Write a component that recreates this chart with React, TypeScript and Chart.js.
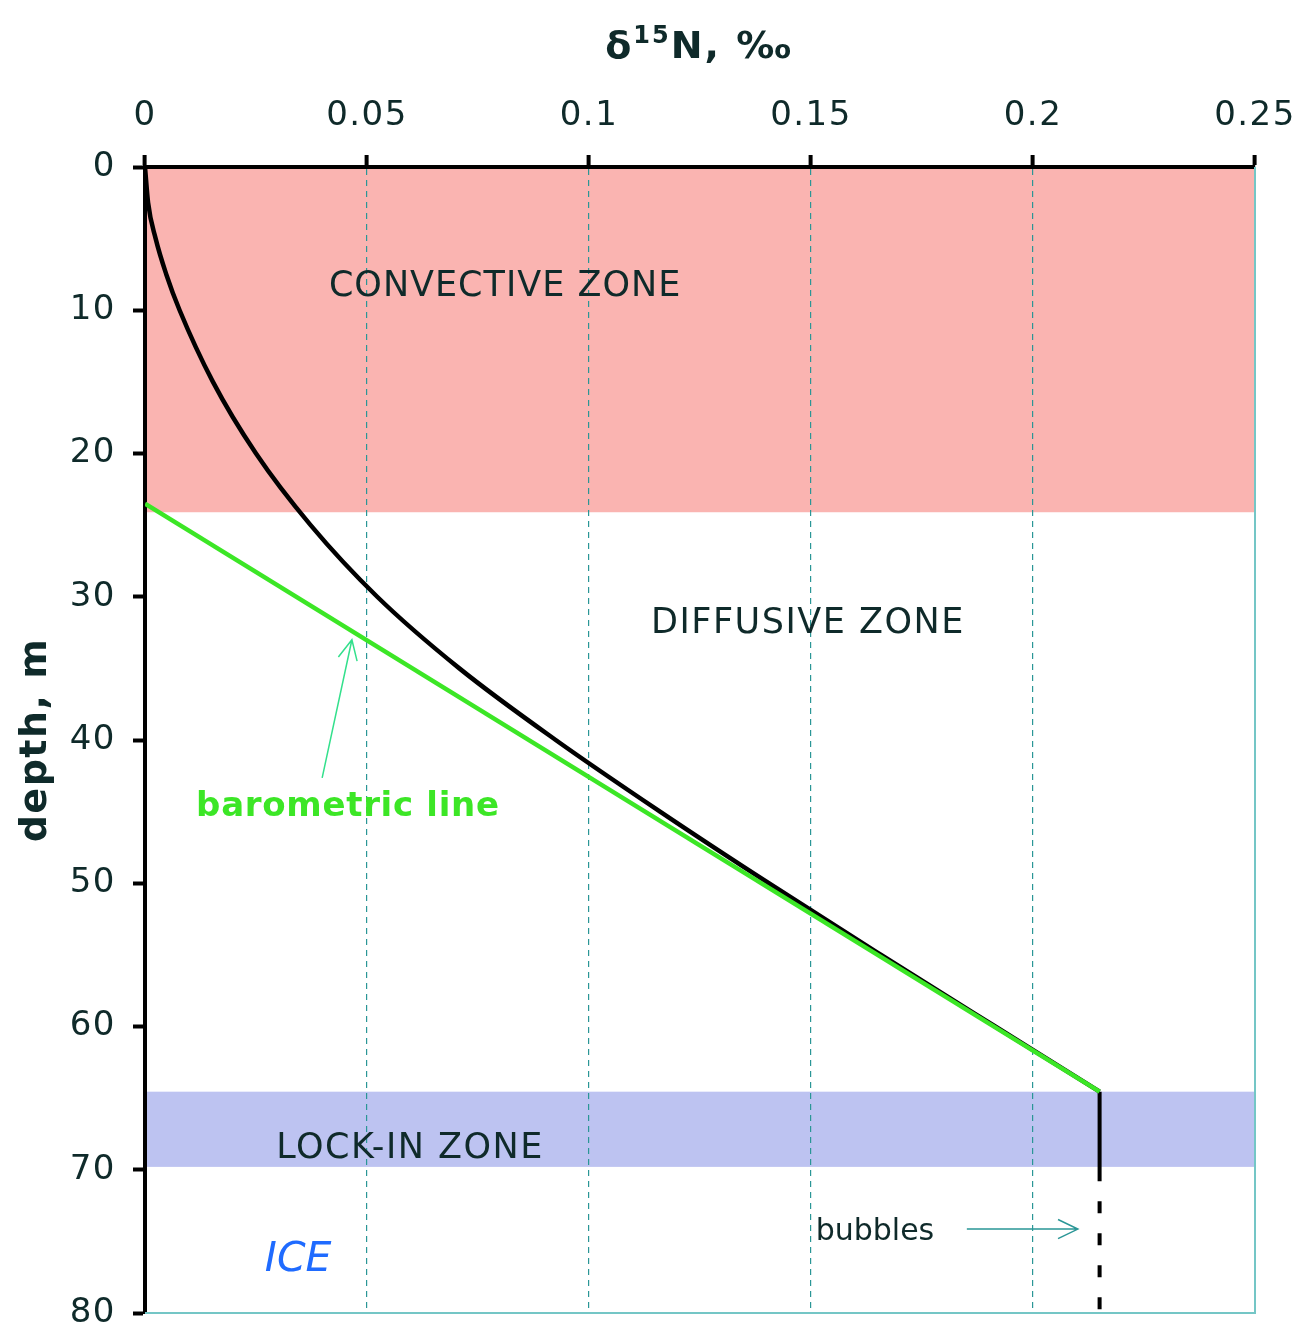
import React, { useEffect, useRef } from "react";
import { Chart, registerables } from "chart.js";

Chart.register(...registerables);

// ---- data ----
const xTicks = [0, 0.05, 0.1, 0.15, 0.2, 0.25];
const xTickLabels = ["0", "0.05", "0.1", "0.15", "0.2", "0.25"];
const yTicks = [0, 10, 20, 30, 40, 50, 60, 70, 80];

// modelled δ15N profile in the firn (black curve)
const profileDepth = [0, 2.5, 5, 7.5, 10, 15, 20, 25, 30, 35, 40, 45, 50, 55, 60, 64.55];
const profileDelta = [0, 0.0007, 0.0024, 0.0048, 0.0078, 0.0153, 0.025, 0.0373, 0.0523, 0.0708, 0.0925, 0.116, 0.1405, 0.1658, 0.1915, 0.215];

// barometric (gravitational) line
const barometricDepth = [23.5, 64.55];
const barometricDelta = [0, 0.215];

// lock-in segment and bubbles in ice
const lockInLineDepth = [64.55, 70.8];
const lockInLineDelta = [0.215, 0.215];
const bubblesDepth = [70.8, 80];
const bubblesDelta = [0.215, 0.215];

// zones (depth ranges, m)
const convectiveZone = [0, 24.1];
const lockInZone = [64.55, 69.8];

// ---- styles ----
const TEXT = "#0f2a2a";
const FONT = "'DejaVu Sans', Verdana, sans-serif";
const TEAL = "#2a9696";

const pts = (xs: number[], ys: number[]) => xs.map((x, i) => ({ x, y: ys[i] }));

const labels = [
  { text: "CONVECTIVE ZONE", x: 0.0811, y: 9.0, font: `35px ${FONT}`, color: TEXT, ls: "1px" },
  { text: "DIFFUSIVE ZONE", x: 0.1493, y: 32.5, font: `35px ${FONT}`, color: TEXT, ls: "1.5px" },
  { text: "LOCK-IN ZONE", x: 0.0597, y: 69.2, font: `35px ${FONT}`, color: TEXT, ls: "1.5px" },
  { text: "ICE", x: 0.0345, y: 77.1, font: `italic 41px ${FONT}`, color: "#1f6bff", ls: "0px" },
  { text: "bubbles", x: 0.1644, y: 74.9, font: `30px ${FONT}`, color: TEXT, ls: "0px" },
  { text: "barometric line", x: 0.0457, y: 45.3, font: `bold 34px ${FONT}`, color: "#3ce626", ls: "0.7px" },
];

const arrows = [
  { from: [0.0399, 42.65], to: [0.0466, 33.0], color: "#33e08c" },
  { from: [0.1851, 74.14], to: [0.2101, 74.14], color: TEAL },
];

const TICK_LS = "1.5px";

const overlayPlugin = {
  id: "overlay",
  beforeLayout(chart: any) {
    chart.ctx.letterSpacing = TICK_LS;
  },
  beforeDraw(chart: any) {
    const { ctx, chartArea: a, scales } = chart;
    ctx.letterSpacing = TICK_LS;
    const x = scales.x, y = scales.y;
    ctx.save();
    ctx.fillStyle = "#ffffff";
    ctx.fillRect(0, 0, chart.width, chart.height);
    const band = (r: number[], c: string) => {
      const y0 = y.getPixelForValue(r[0]);
      const y1 = y.getPixelForValue(r[1]);
      ctx.fillStyle = c;
      ctx.fillRect(a.left, y0, x.getPixelForValue(0.25) - a.left, y1 - y0);
    };
    band(convectiveZone, "#fab4b1");
    band(lockInZone, "#bdc3f1");
    ctx.restore();
  },
  beforeDatasetsDraw(chart: any) {
    const { ctx, chartArea: a } = chart;
    ctx.save();
    ctx.strokeStyle = "#74c6c6";
    ctx.lineWidth = 2;
    ctx.beginPath();
    ctx.moveTo(a.left, a.bottom);
    ctx.lineTo(a.right, a.bottom);
    ctx.lineTo(a.right, a.top);
    ctx.stroke();
    ctx.restore();
  },
  afterDatasetsDraw(chart: any) {
    const { ctx, scales } = chart;
    const x = scales.x, y = scales.y;
    ctx.save();
    ctx.textAlign = "center";
    ctx.textBaseline = "alphabetic";
    for (const l of labels) {
      ctx.font = l.font;
      ctx.letterSpacing = l.ls;
      ctx.fillStyle = l.color;
      ctx.fillText(l.text, x.getPixelForValue(l.x), y.getPixelForValue(l.y));
    }
    for (const ar of arrows) {
      const x0 = x.getPixelForValue(ar.from[0]);
      const y0 = y.getPixelForValue(ar.from[1]);
      const x1 = x.getPixelForValue(ar.to[0]);
      const y1 = y.getPixelForValue(ar.to[1]);
      const ang = Math.atan2(y1 - y0, x1 - x0);
      const h = 22, s = 0.45;
      ctx.strokeStyle = ar.color;
      ctx.lineWidth = 1.5;
      ctx.beginPath();
      ctx.moveTo(x0, y0);
      ctx.lineTo(x1, y1);
      ctx.moveTo(x1 - h * Math.cos(ang - s), y1 - h * Math.sin(ang - s));
      ctx.lineTo(x1, y1);
      ctx.lineTo(x1 - h * Math.cos(ang + s), y1 - h * Math.sin(ang + s));
      ctx.stroke();
    }
    ctx.restore();
  },
  afterDraw(chart: any) {
    const { ctx, chartArea: a } = chart;
    ctx.save();
    ctx.fillStyle = TEXT;
    ctx.textBaseline = "alphabetic";
    ctx.textAlign = "left";
    ctx.letterSpacing = "2px";
    // top title: δ15N, ‰
    const big = `bold 38px ${FONT}`;
    const small = `bold 24px ${FONT}`;
    ctx.font = big;
    const w1 = ctx.measureText("δ").width;
    const w3 = ctx.measureText("N, ‰").width;
    ctx.font = small;
    const w2 = ctx.measureText("15").width;
    const total = w1 + w2 + w3;
    let cx = 699 - total / 2;
    const base = 58;
    ctx.font = big;
    ctx.fillText("δ", cx, base);
    cx += w1;
    ctx.font = small;
    ctx.fillText("15", cx, base - 15);
    cx += w2;
    ctx.font = big;
    ctx.fillText("N, ‰", cx, base);
    // y title
    ctx.letterSpacing = "1.5px";
    ctx.translate(46, (a.top + a.bottom) / 2);
    ctx.rotate(-Math.PI / 2);
    ctx.textAlign = "center";
    ctx.font = `bold 38px ${FONT}`;
    ctx.fillText("depth, m", 0, 0);
    ctx.restore();
  },
};

export default function App() {
  const ref = useRef<HTMLCanvasElement | null>(null);
  useEffect(() => {
    document.body.style.margin = "0";
    const canvas = ref.current!;
    const chart = new Chart(canvas, {
      type: "scatter",
      data: {
        datasets: [
          {
            label: "barometric line",
            data: pts(barometricDelta, barometricDepth),
            showLine: true,
            borderColor: "#3ce626",
            borderWidth: 4.5,
            pointRadius: 0,
          },
          {
            label: "δ15N profile",
            data: pts(profileDelta, profileDepth),
            showLine: true,
            borderColor: "#000000",
            borderWidth: 4.5,
            pointRadius: 0,
            cubicInterpolationMode: "monotone",
          },
          {
            label: "lock-in",
            data: pts(lockInLineDelta, lockInLineDepth),
            showLine: true,
            borderColor: "#000000",
            borderWidth: 4,
            pointRadius: 0,
          },
          {
            label: "bubbles",
            data: pts(bubblesDelta, bubblesDepth),
            showLine: true,
            borderColor: "#000000",
            borderWidth: 4,
            borderDash: [12, 20],
            borderDashOffset: 12,
            pointRadius: 0,
          },
        ],
      } as any,
      options: {
        animation: false,
        responsive: false,
        devicePixelRatio: 1,
        layout: { padding: { left: 0, top: 0, right: 55, bottom: 27 } },
        plugins: { legend: { display: false }, tooltip: { enabled: false }, title: { display: false } },
        scales: {
          x: {
            type: "linear",
            position: "top",
            min: 0,
            max: 0.25,
            afterBuildTicks: (s: any) => {
              s.ticks = xTicks.map((v) => ({ value: v }));
            },
            afterFit: (s: any) => {
              s.height = 167;
              s.paddingLeft = 0;
              s.paddingRight = 0;
            },
            ticks: {
              callback: (_v: any, i: number) => xTickLabels[i],
              font: { family: FONT, size: 34 },
              color: TEXT,
              padding: 18.6,
              maxRotation: 0,
              autoSkip: false,
            },
            grid: {
              color: TEAL,
              lineWidth: 1.2,
              drawTicks: true,
              tickLength: 12,
              tickColor: "#000000",
              tickWidth: 4,
              tickBorderDash: [],
            },
            border: { display: true, color: "#000000", width: 4, dash: [6, 5] },
          },
          y: {
            type: "linear",
            reverse: true,
            min: 0,
            max: 80,
            afterBuildTicks: (s: any) => {
              s.ticks = yTicks.map((v) => ({ value: v }));
            },
            afterFit: (s: any) => {
              s.width = 145;
              s.paddingTop = 0;
              s.paddingBottom = 0;
            },
            ticks: {
              callback: (v: any) => String(v),
              font: { family: FONT, size: 34 },
              color: TEXT,
              padding: 17,
              autoSkip: false,
            },
            grid: {
              drawOnChartArea: false,
              drawTicks: true,
              tickLength: 12,
              tickColor: "#000000",
              tickWidth: 4,
            },
            border: { display: true, color: "#000000", width: 4 },
          },
        },
      } as any,
      plugins: [overlayPlugin],
    });
    return () => chart.destroy();
  }, []);
  return <canvas ref={ref} width={1310} height={1340} style={{ display: "block" }} />;
}
